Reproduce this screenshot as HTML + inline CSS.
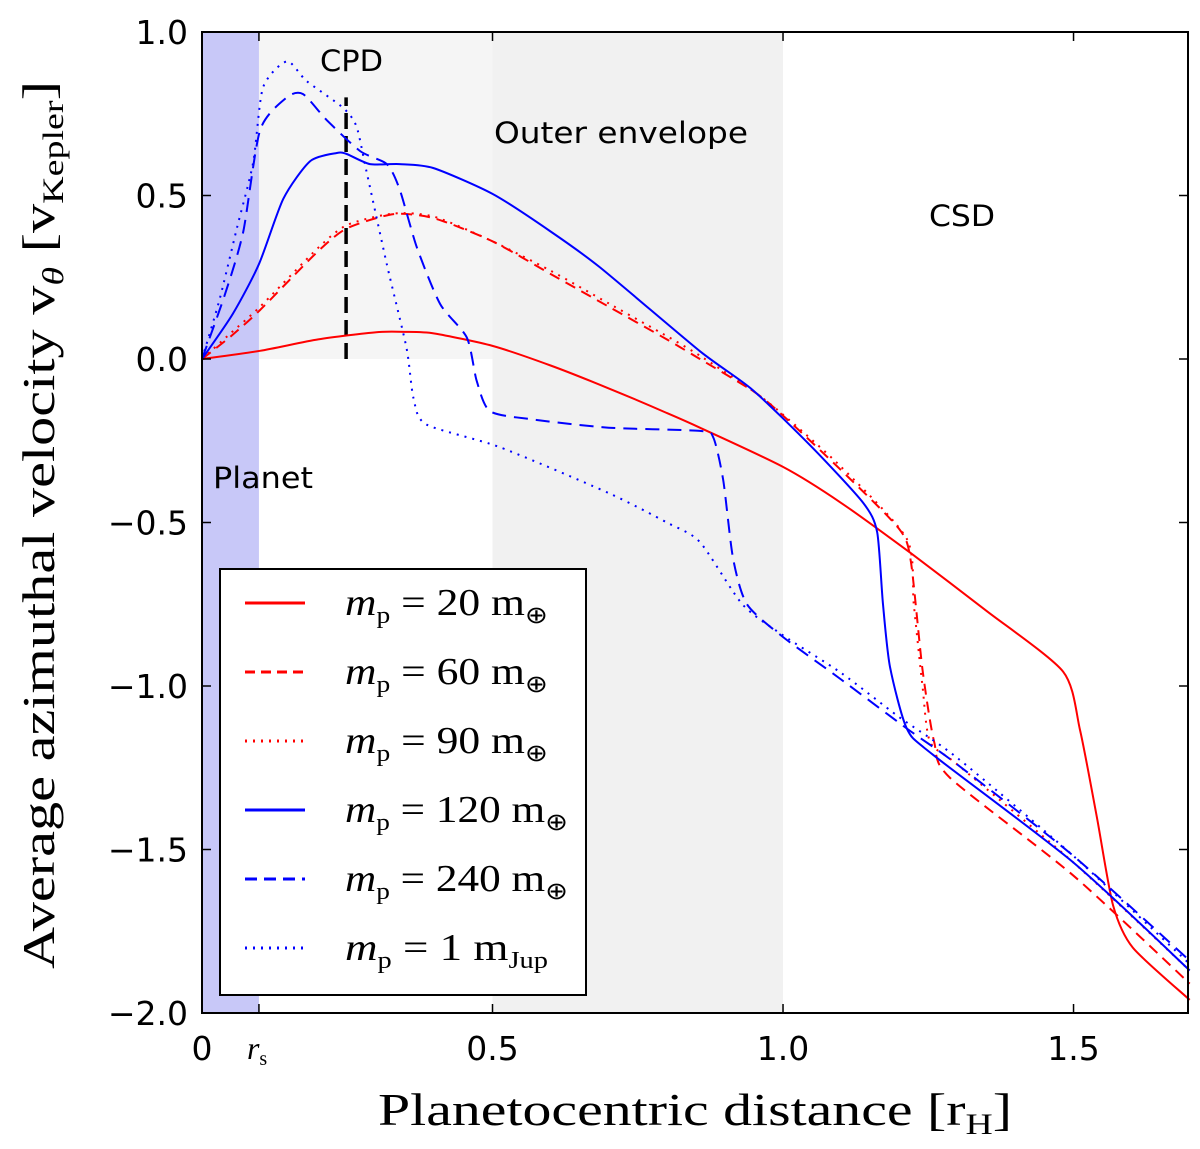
<!DOCTYPE html>
<html><head><meta charset="utf-8"><style>
body{margin:0;background:#fff;}
svg{display:block;}
</style></head><body>
<svg id="chart" width="1200" height="1149" viewBox="0 0 1200 1149" xmlns="http://www.w3.org/2000/svg">
<g id="bg"></g>
<g id="series"></g>
<g id="axes"></g>
<g id="labels"></g>
</svg>
<script>
const xTicks=[0,0.5,1.0,1.5];
const xTickLabels=["0","0.5","1.0","1.5"];
const yTicks=[1.0,0.5,0.0,-0.5,-1.0,-1.5,-2.0];
const yTickLabels=["1.0","0.5","0.0","\u22120.5","\u22121.0","\u22121.5","\u22122.0"];
const rs=0.098;
const cpdLine=0.248;
const seriesNames=["m20","m60","m90","m120","m240","m1jup"];
const m20=[[0,0],[0.1,0.025],[0.2,0.06],[0.3,0.082],[0.35,0.083],[0.4,0.078],[0.5,0.04],[0.6,-0.02],[0.7,-0.09],[0.8,-0.165],[0.857,-0.21],[1.0,-0.33],[1.1,-0.44],[1.22,-0.594],[1.35,-0.77],[1.482,-0.956],[1.511,-1.133],[1.54,-1.4],[1.568,-1.67],[1.602,-1.80],[1.7,-1.96]];
const m60=[[0,0],[0.05,0.07],[0.1,0.15],[0.2,0.33],[0.25,0.40],[0.33,0.443],[0.4,0.43],[0.5,0.36],[0.6,0.26],[0.7,0.16],[0.8,0.06],[0.857,0.0],[0.95,-0.1],[1.0,-0.173],[1.1,-0.34],[1.2,-0.52],[1.22,-0.62],[1.24,-0.95],[1.26,-1.17],[1.287,-1.28],[1.5,-1.58],[1.7,-1.91]];
const m90=[[0,0],[0.05,0.08],[0.1,0.16],[0.2,0.34],[0.25,0.41],[0.33,0.445],[0.4,0.435],[0.5,0.36],[0.6,0.27],[0.7,0.17],[0.8,0.07],[0.857,0.01],[0.95,-0.1],[1.0,-0.17],[1.1,-0.33],[1.213,-0.55],[1.225,-0.75],[1.24,-1.0],[1.253,-1.17],[1.3,-1.24],[1.5,-1.54],[1.7,-1.87]];
const m120=[[0,0],[0.053,0.138],[0.098,0.29],[0.14,0.49],[0.186,0.605],[0.232,0.63],[0.249,0.627],[0.289,0.596],[0.34,0.596],[0.398,0.584],[0.5,0.505],[0.6,0.39],[0.685,0.28],[0.857,0.024],[0.948,-0.095],[1.05,-0.27],[1.138,-0.44],[1.162,-0.53],[1.172,-0.75],[1.184,-0.94],[1.213,-1.13],[1.258,-1.21],[1.5,-1.54],[1.7,-1.87]];
const m240=[[0,0],[0.04,0.2],[0.071,0.39],[0.1,0.70],[0.146,0.8],[0.174,0.81],[0.215,0.73],[0.272,0.636],[0.318,0.596],[0.34,0.52],[0.37,0.34],[0.41,0.168],[0.456,0.065],[0.473,-0.068],[0.496,-0.16],[0.57,-0.185],[0.7,-0.21],[0.857,-0.22],[0.88,-0.24],[0.897,-0.37],[0.914,-0.61],[0.938,-0.75],[1.0,-0.85],[1.1,-0.98],[1.213,-1.13],[1.3,-1.24],[1.5,-1.52],[1.7,-1.84]];
const m1jup=[[0,0],[0.03,0.18],[0.06,0.4],[0.088,0.6],[0.105,0.83],[0.146,0.91],[0.18,0.85],[0.243,0.768],[0.266,0.71],[0.283,0.575],[0.318,0.29],[0.352,0.034],[0.364,-0.12],[0.386,-0.2],[0.513,-0.27],[0.7,-0.41],[0.8,-0.5],[0.857,-0.56],[0.93,-0.75],[1.0,-0.845],[1.1,-0.96],[1.2,-1.095],[1.3,-1.22],[1.5,-1.52],[1.7,-1.85]];

const X0=202,X1=1188,Y0=32,Y1=1013;
const xmin=0,xmax=1.697,ymin=-2,ymax=1;
function sx(v){return X0+(v-xmin)/(xmax-xmin)*(X1-X0);}
function sy(v){return Y1-(v-ymin)/(ymax-ymin)*(Y1-Y0);}
const NS="http://www.w3.org/2000/svg";
function mk(tag,attrs,parent){const e=document.createElementNS(NS,tag);for(const k in attrs)e.setAttribute(k,attrs[k]);parent.appendChild(e);return e;}
const bg=document.getElementById('bg'),ser=document.getElementById('series'),ax=document.getElementById('axes'),lb=document.getElementById('labels');

function smoothPath(pts){
  const p=pts.map(q=>[sx(q[0]),sy(q[1])]);
  let d='M'+p[0][0].toFixed(1)+','+p[0][1].toFixed(1);
  const k=0.12;
  for(let i=0;i<p.length-1;i++){
    const a=p[Math.max(i-1,0)],b=p[i],c=p[i+1],e=p[Math.min(i+2,p.length-1)];
    const c1=[b[0]+(c[0]-a[0])*k,b[1]+(c[1]-a[1])*k];
    const c2=[c[0]-(e[0]-b[0])*k,c[1]-(e[1]-b[1])*k];
    d+=' C'+c1[0].toFixed(1)+','+c1[1].toFixed(1)+' '+c2[0].toFixed(1)+','+c2[1].toFixed(1)+' '+c[0].toFixed(1)+','+c[1].toFixed(1);
  }
  return d;
}

let r;
r=mk('rect',{x:sx(rs),y:Y0,width:sx(0.5)-sx(rs),height:sy(0)-Y0,fill:'#f5f5f5'},bg);


r=mk('rect',{x:sx(0.5),y:Y0,width:sx(1.0)-sx(0.5),height:Y1-Y0,fill:'#f1f1f1'},bg);


r=mk('rect',{x:X0,y:Y0,width:sx(rs)-X0,height:Y1-Y0,fill:'#c8c8f8'},bg);


r=mk('line',{x1:sx(cpdLine),x2:sx(cpdLine),y1:sy(0),y2:sy(0.8),stroke:'#000','stroke-width':3.5,'stroke-dasharray':'16,7'},bg);



const styles={m20:['#ff0000','none'],m60:['#ff0000','11,7'],m90:['#ff0000','2,6'],m120:['#0000ff','none'],m240:['#0000ff','14,8'],m1jup:['#0000ff','2,6']};
const dataMap={m20,m60,m90,m120,m240,m1jup};
seriesNames.forEach(n=>{
  const pl=mk('path',{d:smoothPath(dataMap[n]),fill:'none',stroke:styles[n][0],'stroke-width':2,'stroke-dasharray':styles[n][1],'stroke-linejoin':'round'},ser);
  
  
});

r=mk('rect',{x:X0,y:Y0,width:X1-X0,height:Y1-Y0,fill:'none',stroke:'#000','stroke-width':2},ax);


xTicks.forEach((v,i)=>{
  const x=sx(v);
  mk('line',{x1:x,x2:x,y1:Y1,y2:Y1-9,stroke:'#000','stroke-width':1.5},ax);
  mk('line',{x1:x,x2:x,y1:Y0,y2:Y0+9,stroke:'#000','stroke-width':1.5},ax);
  const t=mk('text',{x:x,y:1060,'text-anchor':'middle','font-family':'DejaVu Sans, Liberation Sans, sans-serif','font-size':33,fill:'#000'},lb);
  t.textContent=xTickLabels[i];
  
  
});
mk('line',{x1:sx(rs),x2:sx(rs),y1:Y1,y2:Y1-9,stroke:'#000','stroke-width':1.5},ax);
mk('line',{x1:sx(rs),x2:sx(rs),y1:Y0,y2:Y0+9,stroke:'#000','stroke-width':1.5},ax);
let t=mk('text',{x:sx(rs)-12,y:1059,'font-family':'Liberation Serif, serif','font-size':32,'font-style':'italic',fill:'#000'},lb);
t.innerHTML='r<tspan font-size="20" font-style="normal" dy="6">s</tspan>';


yTicks.forEach((v,i)=>{
  const y=sy(v);
  mk('line',{x1:X0,x2:X0+9,y1:y,y2:y,stroke:'#000','stroke-width':1.5},ax);
  mk('line',{x1:X1,x2:X1-9,y1:y,y2:y,stroke:'#000','stroke-width':1.5},ax);
  const tt=mk('text',{x:188,y:y+12,'text-anchor':'end','font-family':'DejaVu Sans, Liberation Sans, sans-serif','font-size':33,fill:'#000'},lb);
  tt.textContent=yTickLabels[i];
  
  
});

const ann=[["CPD",320,71,63,'cpd-label'],["Outer envelope",494,143,254,'outer-envelope-label'],["CSD",929,226,66,'csd-label'],["Planet",213,488,100,'planet-label']];
ann.forEach(a=>{const e=mk('text',{x:a[1],y:a[2],'font-family':'DejaVu Sans, Liberation Sans, sans-serif','font-size':29,fill:'#000',textLength:a[3],lengthAdjust:'spacingAndGlyphs'},lb);e.textContent=a[0];

});

t=mk('text',{x:378,y:1125,'font-family':'Liberation Serif, serif','font-size':46,fill:'#000',textLength:634,lengthAdjust:'spacingAndGlyphs'},lb);
t.innerHTML='Planetocentric distance [r<tspan font-size="30" dy="9">H</tspan><tspan dy="-9">]</tspan>';


t=mk('text',{x:0,y:0,'font-family':'Liberation Serif, serif','font-size':46,fill:'#000',transform:'translate(54,969) rotate(-90)',textLength:888,lengthAdjust:'spacingAndGlyphs'},lb);
t.innerHTML='Average azimuthal velocity v<tspan font-style="italic" font-size="30" dy="9">θ</tspan><tspan dy="-9"> [v</tspan><tspan font-size="30" dy="9">Kepler</tspan><tspan dy="-9">]</tspan>';



const lg=mk('g',{},lb);


mk('rect',{x:220,y:569,width:366,height:426,fill:'#fff',stroke:'#000','stroke-width':2},lg);
const legTexts=[['20','⊕'],['60','⊕'],['90','⊕'],['120','⊕'],['240','⊕'],['1','Jup']];
const legLens=[203,203,203,223,223,203];
seriesNames.forEach((n,i)=>{
  const y=603+i*69;
  const l=mk('line',{x1:245,x2:305,y1:y,y2:y,stroke:styles[n][0],'stroke-width':3,'stroke-dasharray':styles[n][1]==='none'?'none':(n==='m60'?'10,6':(n==='m240'?'12,7':'2,6'))},lg);
  
  
  const e=mk('text',{x:345,y:y+12,'font-family':'Liberation Serif, serif','font-size':38,fill:'#000',textLength:legLens[i],lengthAdjust:'spacingAndGlyphs'},lg);
  e.innerHTML='<tspan font-style="italic">m</tspan><tspan font-size="24" dy="8">p</tspan><tspan dy="-8"> = '+legTexts[i][0]+' m</tspan><tspan font-size="24" dy="8">'+legTexts[i][1]+'</tspan>';
  
  
});
</script>
</body></html>
